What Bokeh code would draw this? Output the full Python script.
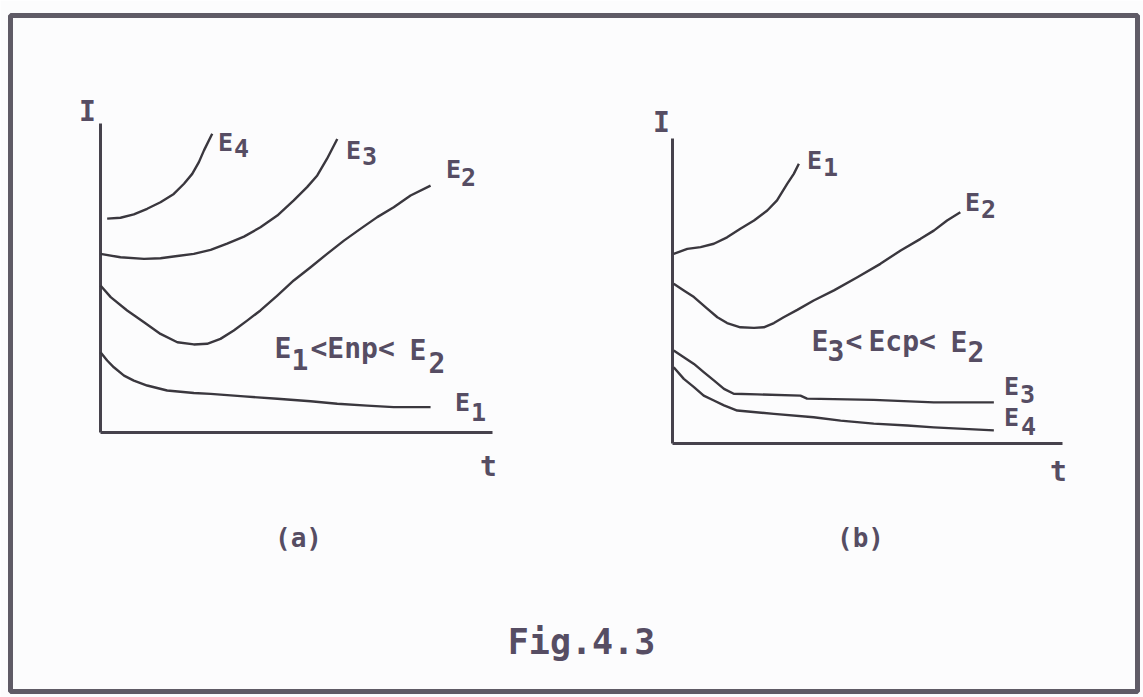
from bokeh.plotting import figure
from bokeh.models import Range1d
from bokeh.core.properties import value
from bokeh.embed import file_html
from bokeh.resources import INLINE

# ---- data: current I versus time t (arbitrary units, each axis spans 0..10) ----
T_MAX = 10.0
I_MAX = 10.0

# panel (a): E1 < Enp < E2
a_E4_t = [0.17, 0.51, 0.85, 1.19, 1.53, 1.87, 2.13, 2.34, 2.51, 2.64, 2.85]
a_E4_I = [6.92, 6.95, 7.06, 7.24, 7.45, 7.72, 8.05, 8.37, 8.75, 9.13, 9.67]
a_E3_t = [0.00, 0.51, 1.11, 1.53, 1.96, 2.38, 2.81, 3.23, 3.66, 4.08, 4.51, 4.93,
          5.27, 5.53, 5.78, 6.04]
a_E3_I = [5.78, 5.67, 5.62, 5.64, 5.71, 5.78, 5.91, 6.11, 6.34, 6.64, 7.02, 7.51,
          7.94, 8.32, 8.86, 9.50]
a_E2_t = [0.00, 0.26, 0.68, 1.11, 1.53, 1.96, 2.38, 2.72, 3.06, 3.40, 3.74, 4.08,
          4.51, 4.93, 5.36, 5.78, 6.21, 6.63, 7.06, 7.48, 7.91, 8.42]
a_E2_I = [4.76, 4.38, 3.95, 3.57, 3.19, 2.92, 2.85, 2.87, 3.03, 3.30, 3.62, 3.95,
          4.43, 4.92, 5.35, 5.78, 6.21, 6.59, 6.97, 7.29, 7.67, 7.99]
a_E1_t = [0.00, 0.17, 0.34, 0.60, 0.85, 1.19, 1.70, 2.38, 2.81, 3.66, 4.51, 5.36,
          6.04, 6.80, 7.48, 8.42]
a_E1_I = [2.60, 2.33, 2.11, 1.84, 1.68, 1.52, 1.36, 1.28, 1.25, 1.17, 1.09, 1.01,
          0.93, 0.87, 0.82, 0.82]

# panel (b): E3 < Ecp < E2
b_E1_t = [0.03, 0.38, 0.72, 1.06, 1.40, 1.74, 2.09, 2.43, 2.68, 2.94, 3.11, 3.24]
b_E1_I = [6.22, 6.38, 6.44, 6.55, 6.76, 7.04, 7.31, 7.64, 7.97, 8.51, 8.84, 9.17]
b_E2_t = [0.03, 0.29, 0.55, 0.89, 1.15, 1.40, 1.74, 2.09, 2.34, 2.60, 2.85, 3.20,
          3.62, 4.14, 4.74, 5.33, 5.85, 6.36, 6.70, 7.04, 7.38]
b_E2_I = [5.24, 5.02, 4.80, 4.42, 4.14, 3.95, 3.81, 3.79, 3.81, 3.95, 4.14, 4.38,
          4.69, 5.02, 5.45, 5.89, 6.33, 6.71, 6.98, 7.31, 7.58]
b_E3_t = [0.03, 0.29, 0.55, 0.80, 1.06, 1.32, 1.57, 2.17, 3.28, 3.45, 5.16, 6.70, 8.24]
b_E3_I = [3.05, 2.83, 2.61, 2.34, 2.07, 1.79, 1.63, 1.61, 1.57, 1.47, 1.43, 1.35, 1.35]
b_E4_t = [0.03, 0.29, 0.55, 0.80, 1.06, 1.32, 1.66, 2.60, 3.62, 4.31, 5.16, 6.02,
          6.70, 8.24]
b_E4_I = [2.50, 2.12, 1.85, 1.57, 1.41, 1.25, 1.08, 0.97, 0.86, 0.75, 0.65, 0.59,
          0.53, 0.43]

# ---- page layout (pixels) ----
W, H = 1143, 697
FRAME_L, FRAME_R, FRAME_T, FRAME_B = 10, 1137, 15, 691

TEXT_COLOR = "#564d63"
CURVE_COLOR = "#3a373e"
AXIS_COLOR = "#46424c"
FONT = value("DejaVu Sans Mono")

p = figure(width=W, height=H, output_backend="svg", toolbar_location=None,
           x_range=Range1d(FRAME_L, FRAME_R), y_range=Range1d(FRAME_B, FRAME_T),
           min_border_left=FRAME_L, min_border_right=W - FRAME_R,
           min_border_top=FRAME_T, min_border_bottom=H - FRAME_B,
           background_fill_color="#fcfcfd", border_fill_color="#fcfcfd")
p.axis.visible = False
p.grid.visible = False
p.outline_line_color = "#5f5b66"
p.outline_line_width = 5


def panel_ranges(px0, px1, py0, py1):
    """Ranges so that t=0..T_MAX spans px0..px1 and I=0..I_MAX spans py0..py1."""
    sx = T_MAX / (px1 - px0)
    sy = I_MAX / (py0 - py1)
    xr = Range1d(start=(FRAME_L - px0) * sx, end=(FRAME_R - px0) * sx)
    yr = Range1d(start=(py0 - FRAME_B) * sy, end=(py0 - FRAME_T) * sy)
    return xr, yr


xa, ya = panel_ranges(100, 492, 432, 123)
xb, yb = panel_ranges(672, 1062, 443, 138)
p.extra_x_ranges = {"ta": xa, "tb": xb}
p.extra_y_ranges = {"Ia": ya, "Ib": yb}

panels = [
    ("ta", "Ia", [(a_E4_t, a_E4_I), (a_E3_t, a_E3_I), (a_E2_t, a_E2_I), (a_E1_t, a_E1_I)]),
    ("tb", "Ib", [(b_E1_t, b_E1_I), (b_E2_t, b_E2_I), (b_E3_t, b_E3_I), (b_E4_t, b_E4_I)]),
]
for xn, yn, curves in panels:
    # axes
    p.line([0, 0], [0, I_MAX], x_range_name=xn, y_range_name=yn,
           line_color=AXIS_COLOR, line_width=3)
    p.line([0, T_MAX], [0, 0], x_range_name=xn, y_range_name=yn,
           line_color=AXIS_COLOR, line_width=3)
    for t, i in curves:
        p.line(t, i, x_range_name=xn, y_range_name=yn,
               line_color=CURVE_COLOR, line_width=2.4, line_join="round")


def label(xs, ys, texts, size, align="center"):
    p.text(x=xs, y=ys, text=texts, text_font=FONT, text_font_style="bold",
           text_font_size=size, text_color=TEXT_COLOR,
           text_align=align, text_baseline="middle")


# axis names
label([87, 488, 661, 1058], [111, 466, 122, 471], ["I", "t", "I", "t"], "28px")

# curve names: "E" with a lowered index
label([225, 353, 453, 462, 814, 972, 1011, 1011],
      [142, 150, 169, 402, 160, 202, 386, 417],
      ["E"] * 8, "25px")
label([241, 369, 468, 478, 830, 988, 1027, 1028],
      [147, 155, 176, 411, 166, 208, 393, 425],
      ["4", "3", "2", "1", "1", "2", "3", "4"], "25px")

# potential relations
label([274, 409, 811, 950], [348, 350, 341, 342], ["E", "E", "E", "E"], "28px", "left")
label([291, 428, 827, 967], [359, 362, 350, 351], ["1", "2", "3", "2"], "28px", "left")
label([310, 845, 868], [348, 341, 341], ["<Enp<", "<", "Ecp<"], "28px", "left")

# captions
label([298, 860], [537, 537], ["(a)", "(b)"], "26px")
label([581], [641], ["Fig.4.3"], "35px")

open("out.html", "w").write(file_html(p, INLINE))
